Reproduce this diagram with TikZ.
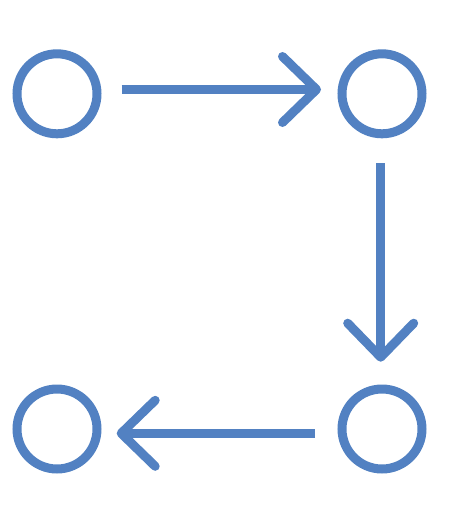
\documentclass[tikz,border=0pt]{standalone}
\usepackage{tikz}
\usetikzlibrary{arrows.meta}
\definecolor{officeblue}{RGB}{82,129,194}

\begin{document}
\begin{tikzpicture}[x=1pt, y=-1pt, >={Straight Barb[length=34pt, width=66pt, round]},
	state/.style={circle, draw=officeblue, line width=9pt, minimum size=80pt, inner sep=0pt},
	flow/.style={->, draw=officeblue, line width=9pt}]
	\useasboundingbox (0,0) rectangle (449,512);
	\node[state] (tl) at (57,93.8) {};
	\node[state] (tr) at (382,93.8) {};
	\node[state] (br) at (382,429) {};
	\node[state] (bl) at (57,429) {};
	\draw[flow, shorten <=20.2pt, shorten >=16.5pt] ([yshift=4.3pt]tl.east) -- ([yshift=4.3pt]tr.west);
	\draw[flow, shorten <=25pt, shorten >=22.8pt] ([xshift=-1.3pt]tr.south) -- ([xshift=-1.3pt]br.north);
	\draw[flow, shorten <=22.5pt, shorten >=15.2pt] ([yshift=-4.3pt]br.west) -- ([yshift=-4.3pt]bl.east);
\end{tikzpicture}
\end{document}
